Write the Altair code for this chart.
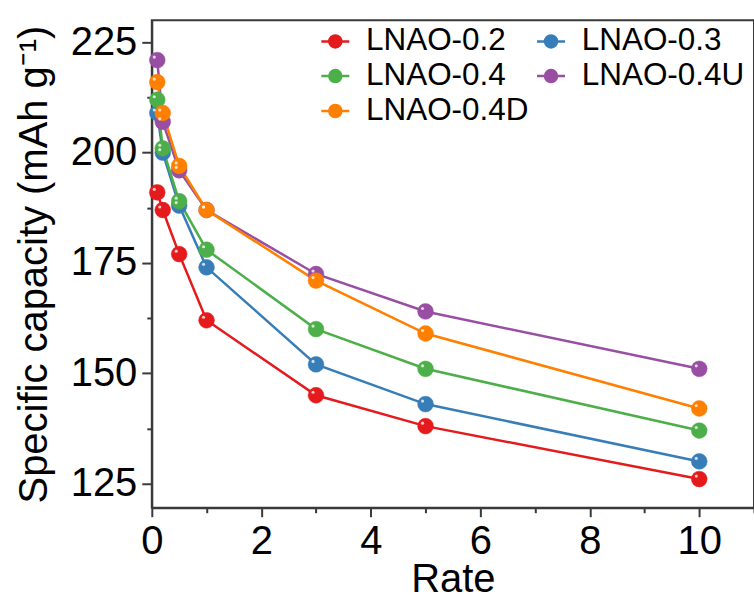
import altair as alt
import pandas as pd

# Discharge rate (C) and specific capacity (mAh g-1) for each sample
rates = [0.1, 0.2, 0.5, 1, 3, 5, 10]
series_names = ["LNAO-0.2", "LNAO-0.3", "LNAO-0.4", "LNAO-0.4U", "LNAO-0.4D"]
cap_lnao_02 = [191, 187, 177, 162, 145, 138, 126]
cap_lnao_03 = [209, 200, 188, 174, 152, 143, 130]
cap_lnao_04 = [212, 201, 189, 178, 160, 151, 137]
cap_lnao_04u = [221, 207, 196, 187, 172.5, 164, 151]
cap_lnao_04d = [216, 209, 197, 187, 171, 159, 142]
series_colors = ["#e41a1c", "#377eb8", "#4daf4a", "#984ea3", "#ff7f00"]

x_tick_values = list(range(0, 12))
y_tick_values = [125, 137.5, 150, 162.5, 175, 187.5, 200, 212.5, 225]

all_caps = [cap_lnao_02, cap_lnao_03, cap_lnao_04, cap_lnao_04u, cap_lnao_04d]
rows = []
for name, caps in zip(series_names, all_caps):
    for r, c in zip(rates, caps):
        rows.append({"series": name, "rate": r, "cap": c})
df = pd.DataFrame(rows)

FONT = "Liberation Sans"
AXIS_GRAY = "#3a3a3a"

color_scale = alt.Scale(domain=series_names, range=series_colors)

# legend glyph: short line with a ball in the middle
legend_symbol = "M-1,0L1,0M0.43,0A0.43,0.43,0,1,1,-0.43,0A0.43,0.43,0,1,1,0.43,0Z"
legend = alt.Legend(
    title=None,
    orient="none",
    direction="horizontal",
    legendX=168,
    legendY=5,
    columns=2,
    symbolType=legend_symbol,
    symbolSize=784,
    symbolStrokeWidth=2.5,
    symbolOpacity=1,
    labelFont=FONT,
    labelFontSize=31.5,
    labelColor="black",
    labelLimit=400,
    labelOffset=15,
    columnPadding=2,
    rowPadding=2,
)

x_enc = alt.X(
    "rate:Q",
    scale=alt.Scale(domain=[0, 11], nice=False),
    axis=alt.Axis(
        title="Rate",
        values=x_tick_values,
        labelExpr="datum.value % 2 == 0 ? datum.label : ''",
        tickSize={"condition": {"test": "datum.value % 2 != 0", "value": 5}, "value": 9},
        labelPadding=5,
        labelFlush=False,
        labelOverlap=False,
        titleY=84,
        titleBaseline="alphabetic",
    ),
)
y_enc = alt.Y(
    "cap:Q",
    scale=alt.Scale(domain=[119.5, 230], nice=False, zero=False),
    axis=alt.Axis(
        title="Specific capacity (mAh g\u207b\u00b9)",
        values=y_tick_values,
        labelExpr="datum.value % 25 == 0 ? datum.label : ''",
        tickSize={"condition": {"test": "datum.value % 25 != 0", "value": 5}, "value": 10},
        labelPadding=5,
        labelFlush=False,
        labelOverlap=False,
        titleX=-105,
        titleBaseline="alphabetic",
    ),
)

base = alt.Chart(df)

lines = base.mark_line(strokeWidth=2.5).encode(
    x=x_enc,
    y=y_enc,
    stroke=alt.Stroke("series:N", scale=color_scale, legend=legend, sort=series_names),
)

balls = base.mark_circle(size=250, opacity=1, strokeWidth=0.5).encode(
    x=x_enc,
    y=y_enc,
    fill=alt.Fill("series:N", scale=color_scale, legend=legend, sort=series_names),
    stroke=alt.Stroke("series:N", scale=color_scale, legend=legend, sort=series_names),
)

# small specular highlight on each ball
shine = base.mark_circle(size=10, color="white", opacity=0.75, xOffset=-3, yOffset=-3).encode(
    x=x_enc,
    y=y_enc,
)

chart = (
    alt.layer(lines, balls, shine)
    .properties(
        width=603,
        height=488,
        autosize=alt.AutoSizeParams(type="none"),
        padding={"left": 152, "top": 20, "right": 0, "bottom": 89},
        background="white",
    )
    .configure_view(stroke=AXIS_GRAY, strokeWidth=2)
    .configure_axis(
        grid=False,
        domainColor=AXIS_GRAY,
        domainWidth=2,
        tickColor=AXIS_GRAY,
        tickWidth=2,
        labelFont=FONT,
        labelFontSize=40,
        labelColor="black",
        titleFont=FONT,
        titleFontSize=40,
        titleFontWeight="normal",
        titleColor="black",
    )
)

chart.save("out.html", embed_options={"renderer": "svg", "actions": False})
